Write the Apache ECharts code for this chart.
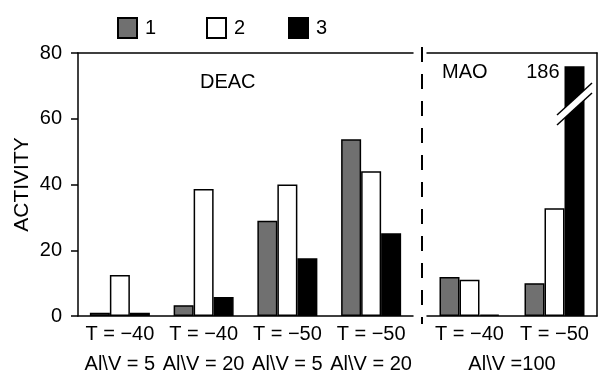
<!DOCTYPE html>
<html>
<head>
<meta charset="utf-8">
<script src="https://cdn.jsdelivr.net/npm/echarts@6/dist/echarts.min.js"></script>
<style>
  html, body { margin: 0; padding: 0; background: #fff; }
  #chart { width: 600px; height: 371px; }
</style>
</head>
<body>
<div id="chart"></div>
<script>
// data
var deacCats = ['T = \u221240\nAl\\V = 5', 'T = \u221240\nAl\\V = 20', 'T = \u221250\nAl\\V = 5', 'T = \u221250\nAl\\V = 20'];
var maoCats = ['T = \u221240', 'T = \u221250'];
var maoRatio = ['Al\\V =100'];
var seriesNames = ['1', '2', '3'];
var deacGray = [1, 3.3, 29, 53.8];
var deacWhite = [12.5, 38.6, 40, 44];
var deacBlack = [1, 5.8, 17.6, 25.2];
var maoGray = [11.9, 10];
var maoWhite = [11, 32.8];
var maoBlack = [0.4, 76];   // last bar is broken, true value 186
var brokenIndex = 1;
var brokenLabel = '186';
var yTicks = [0, 20, 40, 60, 80];

var FONT = '"Liberation Sans", Arial, Helvetica, sans-serif';
var fills = ['#707070', '#ffffff', '#000000'];
var barW = 20;

var chart = echarts.init(document.getElementById('chart'));

function barStyle(i) {
    return { color: fills[i], borderColor: '#000', borderWidth: 1.5 };
}

var lineStyle = { color: '#000', width: 1.5 };

var maoBlackData = maoBlack.map(function (v, i) {
    if (i !== brokenIndex) return v;
    return {
        value: v,
        label: {
            show: true,
            formatter: brokenLabel,
            position: [-5, -4],
            align: 'right',
            verticalAlign: 'top',
            fontFamily: FONT,
            fontSize: 20,
            color: '#000'
        }
    };
});

var legendLefts = [117, 206, 288];

chart.setOption({
    animation: false,
    textStyle: { fontFamily: FONT },
    legend: seriesNames.map(function (n, i) {
        return {
            data: [n],
            left: legendLefts[i],
            top: 17,
            padding: 0,
            icon: 'rect',
            itemWidth: 19,
            itemHeight: 20,
            selectedMode: false,
            textStyle: { fontFamily: FONT, fontSize: 20, color: '#000', padding: [0, 0, 0, 3] }
        };
    }),
    grid: [
        { left: 78, width: 335, top: 53, height: 263, outerBoundsMode: 'none', containLabel: false },
        { left: 427, width: 170, top: 53, height: 263, outerBoundsMode: 'none', containLabel: false }
    ],
    xAxis: [
        {
            gridIndex: 0, type: 'category', position: 'bottom', data: deacCats,
            axisLine: { lineStyle: lineStyle }, axisTick: { show: false },
            axisLabel: { fontSize: 20, color: '#000', lineHeight: 30, margin: 3, interval: 0 }
        },
        {
            gridIndex: 0, type: 'category', position: 'top', data: deacCats,
            axisLine: { lineStyle: lineStyle }, axisTick: { show: false }, axisLabel: { show: false }
        },
        {
            gridIndex: 1, type: 'category', position: 'bottom', data: maoCats,
            axisLine: { lineStyle: lineStyle }, axisTick: { show: false },
            axisLabel: { fontSize: 20, color: '#000', lineHeight: 30, margin: 3, interval: 0 }
        },
        {
            gridIndex: 1, type: 'category', position: 'top', data: maoCats,
            axisLine: { lineStyle: lineStyle }, axisTick: { show: false }, axisLabel: { show: false }
        },
        {
            gridIndex: 1, type: 'category', position: 'bottom', data: maoRatio,
            axisLine: { show: false }, axisTick: { show: false },
            axisLabel: { fontSize: 20, color: '#000', lineHeight: 30, margin: 33 }
        }
    ],
    yAxis: [
        {
            gridIndex: 0, type: 'value', min: 0, max: 80, interval: 20,
            name: 'ACTIVITY', nameLocation: 'middle', nameGap: 45, nameMoveOverlap: false,
            nameTextStyle: { fontSize: 21, color: '#000' },
            axisLine: { show: true, lineStyle: lineStyle },
            axisTick: { show: true, length: 7, lineStyle: lineStyle },
            axisLabel: { fontSize: 20, color: '#000', margin: 16,
                customValues: yTicks },
            splitLine: { show: false }
        },
        {
            gridIndex: 1, type: 'value', min: 0, max: 80, interval: 20, position: 'right',
            axisLine: { show: true, lineStyle: lineStyle },
            axisTick: { show: false }, axisLabel: { show: false }, splitLine: { show: false }
        }
    ],
    series: [
        { name: '1', type: 'bar', xAxisIndex: 0, yAxisIndex: 0, data: deacGray, barWidth: barW, barGap: '0%', itemStyle: barStyle(0) },
        { name: '2', type: 'bar', xAxisIndex: 0, yAxisIndex: 0, data: deacWhite, barWidth: barW, barGap: '0%', itemStyle: barStyle(1) },
        { name: '3', type: 'bar', xAxisIndex: 0, yAxisIndex: 0, data: deacBlack, barWidth: barW, barGap: '0%', itemStyle: barStyle(2) },
        { name: '1', type: 'bar', xAxisIndex: 2, yAxisIndex: 1, data: maoGray, barWidth: barW, barGap: '0%', itemStyle: barStyle(0) },
        { name: '2', type: 'bar', xAxisIndex: 2, yAxisIndex: 1, data: maoWhite, barWidth: barW, barGap: '0%', itemStyle: barStyle(1) },
        { name: '3', type: 'bar', xAxisIndex: 2, yAxisIndex: 1, data: maoBlackData, barWidth: barW, barGap: '0%', itemStyle: barStyle(2) }
    ]
});

// decorations: section labels, dashed divider, axis break on the tall bar
var divX = 422;
var brk = chart.convertToPixel({ xAxisIndex: 2, yAxisIndex: 1 }, [brokenIndex, 64.5]);
var bx = brk[0] + barW, by = brk[1];

chart.setOption({
    graphic: [
        { type: 'text', left: 200, top: 72, style: { text: 'DEAC', font: '20px ' + FONT, fill: '#000' } },
        { type: 'text', left: 442, top: 62, style: { text: 'MAO', font: '20px ' + FONT, fill: '#000' } },
        { type: 'line', shape: { x1: divX, y1: 47, x2: divX, y2: 324 },
          style: { stroke: '#000', lineWidth: 2, lineDash: [15, 12] } },
        { type: 'polygon', shape: { points: [[bx - 17.5, by + 11], [bx + 17.5, by - 21], [bx + 17.5, by - 11], [bx - 17.5, by + 21]] },
          style: { fill: '#fff' }, z: 100 },
        { type: 'line', shape: { x1: bx - 17.5, y1: by + 11, x2: bx + 17.5, y2: by - 21 },
          style: { stroke: '#000', lineWidth: 1.5 }, z: 101 },
        { type: 'line', shape: { x1: bx - 17.5, y1: by + 21, x2: bx + 17.5, y2: by - 11 },
          style: { stroke: '#000', lineWidth: 1.5 }, z: 101 }
    ]
});
</script>
</body>
</html>
